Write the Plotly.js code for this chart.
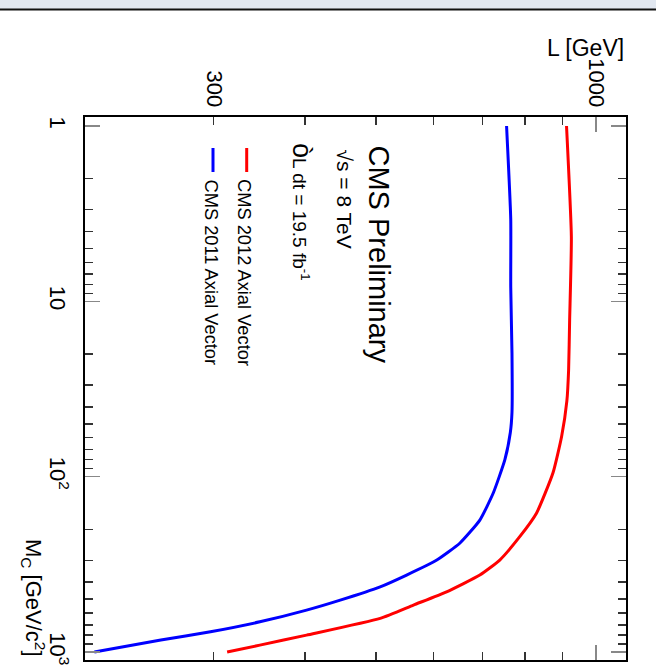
<!DOCTYPE html>
<html>
<head>
<meta charset="utf-8">
<script src="https://cdn.plot.ly/plotly-3.0.1.min.js"></script>
<style>
html,body{margin:0;padding:0;background:#fff;}
#chart{width:656px;height:672px;}
</style>
</head>
<body>
<div id="chart"></div>
<script>
// M_chi [GeV/c^2] vs Lambda [GeV] limits
var massRed   = [1, 4.3, 12.8, 24.7, 37, 59, 95, 161, 220, 299, 364, 454, 540, 643, 801, 914, 1000];
var lambdaRed = [912, 926, 921, 918, 913, 898, 874, 830, 787, 739, 694, 625, 563, 507, 402, 347, 313];
var massBlue   = [1, 3.4, 8.3, 19.7, 43, 56, 80, 124, 177, 239, 299, 364, 425, 506, 577, 673, 767, 855, 1000];
var lambdaBlue = [755, 765, 765, 768, 768, 764, 751, 724, 694, 652, 606, 551, 507, 447, 402, 347, 297, 254, 206];

var seriesNames = ["CMS 2012 Axial Vector", "CMS 2011 Axial Vector"];

var lambdaTickVals = [300, 1000];
var lambdaTickText = ["300", "1000"];
var lambdaShortTicks = [300, 400, 500, 600, 700, 800, 900];
var lambdaLongTicks = [1000];
var massTickVals = [1, 10, 100, 1000];
var massTickText = ["1", "10", "10<sup>2</sup>", "10<sup>3</sup>"];
var massMinorVals = [2,3,4,5,6,7,8,9,20,30,40,50,60,70,80,90,200,300,400,500,600,700,800,900];

var FONT = "Liberation Sans, Arial, Helvetica, sans-serif";
var LRANGE = [Math.log10(200), Math.log10(1100)];
var MRANGE = [Math.log10(1111), Math.log10(0.889)];

var traces = [
  {x: lambdaRed, y: massRed, type: "scatter", mode: "lines", name: seriesNames[0],
   line: {color: "#ff0000", width: 3, shape: "spline", smoothing: 0.5}, showlegend: false, hoverinfo: "skip"},
  {x: lambdaBlue, y: massBlue, type: "scatter", mode: "lines", name: seriesNames[1],
   line: {color: "#0000ff", width: 3, shape: "spline", smoothing: 0.5}, showlegend: false, hoverinfo: "skip"},
  // empty traces that only activate the extra tick axes
  {x: [], y: [], xaxis: "x2", yaxis: "y2", type: "scatter", mode: "lines", showlegend: false, hoverinfo: "skip"},
  {x: [], y: [], xaxis: "x3", yaxis: "y2", type: "scatter", mode: "lines", showlegend: false, hoverinfo: "skip"}
];

function px2x(px){ return (px - 85) / 541; }
function px2y(py){ return (660 - py) / 543; }

var tickAxisCommon = {
  type: "log", showticklabels: false, showline: false, mirror: "ticks",
  showgrid: false, zeroline: false, fixedrange: true, tickmode: "array"
};

var layout = {
  width: 656, height: 672,
  margin: {l: 85, r: 30, t: 117, b: 12, pad: 0},
  paper_bgcolor: "#ffffff", plot_bgcolor: "#ffffff",
  font: {family: FONT, color: "#000", size: 22},
  showlegend: false,
  xaxis: {
    type: "log", range: LRANGE, side: "top",
    tickmode: "array", tickvals: lambdaTickVals, ticktext: lambdaTickText,
    tickangle: 90, ticks: "",
    tickfont: {family: FONT, size: 22, color: "#000"},
    ticklabelstandoff: 0,
    showline: true, linecolor: "#000", linewidth: 2, mirror: true,
    showgrid: false, zeroline: false, fixedrange: true
  },
  xaxis2: Object.assign({}, tickAxisCommon, {
    range: LRANGE, overlaying: "x", anchor: "y2", side: "top",
    tickvals: lambdaShortTicks, ticks: "inside", ticklen: 8, tickwidth: 1.5, tickcolor: "#333"
  }),
  xaxis3: Object.assign({}, tickAxisCommon, {
    range: LRANGE, overlaying: "x", anchor: "y2", side: "top",
    tickvals: lambdaLongTicks, ticks: "inside", ticklen: 15, tickwidth: 1.5, tickcolor: "#888"
  }),
  yaxis: {
    type: "log", range: MRANGE,
    tickmode: "array", tickvals: massTickVals, ticktext: massTickText,
    tickangle: 90, ticks: "inside", ticklen: 15, tickwidth: 1.5, tickcolor: "#888",
    tickfont: {family: FONT, size: 22, color: "#000"},
    ticklabelstandoff: 7,
    showline: true, linecolor: "#000", linewidth: 2, mirror: "ticks",
    showgrid: false, zeroline: false, fixedrange: true
  },
  yaxis2: Object.assign({}, tickAxisCommon, {
    range: MRANGE, overlaying: "y", anchor: "x2", side: "left",
    tickvals: massMinorVals, ticks: "inside", ticklen: 8, tickwidth: 1.5, tickcolor: "#333"
  }),
  shapes: [
    {type: "rect", xref: "paper", yref: "paper", x0: px2x(0), x1: px2x(656), y0: px2y(9), y1: px2y(0),
     fillcolor: "#e1e7f0", line: {width: 0}, layer: "below"},
    {type: "line", xref: "paper", yref: "paper", x0: px2x(0), x1: px2x(656), y0: px2y(9.5), y1: px2y(9.5),
     line: {color: "#111", width: 2}},
    {type: "line", xref: "paper", yref: "paper", x0: px2x(246.7), x1: px2x(246.7), y0: px2y(148), y1: px2y(172),
     line: {color: "#ff0000", width: 3}},
    {type: "line", xref: "paper", yref: "paper", x0: px2x(213), x1: px2x(213), y0: px2y(148), y1: px2y(172),
     line: {color: "#0000ff", width: 3}}
  ],
  annotations: [
    {text: "CMS Preliminary", xref: "paper", yref: "paper", x: px2x(378.5), y: px2y(143),
     xanchor: "center", yanchor: "top", textangle: 90, showarrow: false, font: {family: FONT, size: 29, color: "#000"}},
    {text: "√s = 8 TeV", xref: "paper", yref: "paper", x: px2x(344), y: px2y(147),
     xanchor: "center", yanchor: "top", textangle: 90, showarrow: false, font: {family: FONT, size: 21, color: "#000"}},
    {text: "<span style='font-size:27px'>ò</span>L dt = 19.5 fb<sup>-1</sup>", xref: "paper", yref: "paper", x: px2x(302), y: px2y(141),
     xanchor: "center", yanchor: "top", textangle: 90, showarrow: false, font: {family: FONT, size: 19, color: "#000"}},
    {text: seriesNames[0], xref: "paper", yref: "paper", x: px2x(244.5), y: px2y(177),
     xanchor: "center", yanchor: "top", textangle: 90, showarrow: false, font: {family: FONT, size: 18.3, color: "#000"}},
    {text: seriesNames[1], xref: "paper", yref: "paper", x: px2x(211.5), y: px2y(177),
     xanchor: "center", yanchor: "top", textangle: 90, showarrow: false, font: {family: FONT, size: 18.3, color: "#000"}},
    {text: "L [GeV]", xref: "paper", yref: "paper", x: px2x(626), y: px2y(48),
     xanchor: "right", yanchor: "middle", showarrow: false, font: {family: FONT, size: 23, color: "#000"}},
    {text: "M<sub>C</sub> [GeV/c<sup>2</sup>]", xref: "paper", yref: "paper", x: px2x(34), y: px2y(659),
     xanchor: "center", yanchor: "bottom", textangle: 90, showarrow: false, font: {family: FONT, size: 22, color: "#000"}}
  ]
};

Plotly.newPlot("chart", traces, layout, {displayModeBar: false, staticPlot: true});
</script>
</body>
</html>
